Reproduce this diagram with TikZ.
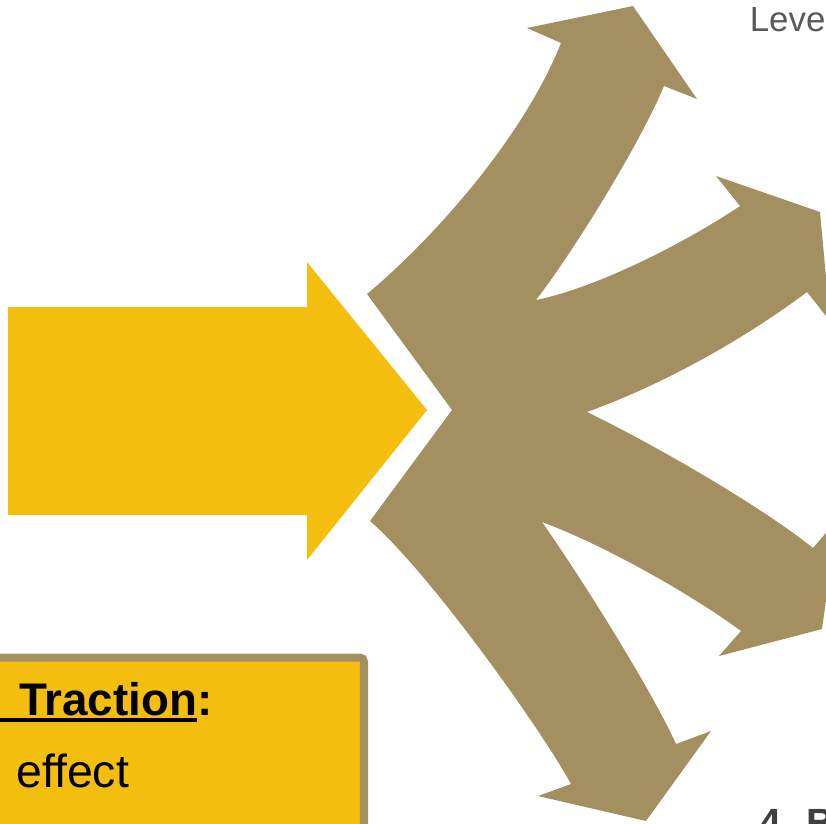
\documentclass[tikz,border=0pt]{standalone}
\usepackage{fontspec}
\setmainfont{Liberation Sans}
\definecolor{gold}{HTML}{F4BE0E}
\definecolor{khaki}{HTML}{A38F60}
\definecolor{levelgray}{HTML}{595959}
\definecolor{stepgray}{HTML}{404040}

\begin{document}
\begin{tikzpicture}[x=0.025cm, y=-0.025cm,
    txt/.style={inner sep=0, anchor=base west},
    boxline/.style={draw=khaki, line width=5.7pt, fill=gold, rounded corners=3pt},
    uline/.style={line width=3.2pt, black}
]
\useasboundingbox (0,0) rectangle (826,823);
\clip (0,0) rectangle (826,823);

\fill[gold] (8,307) -- (307,307) -- (307,262) -- (427,410) -- (307,560) -- (307,515) -- (8,515) -- cycle;

\fill[khaki] (452,410) -- (367,294)
  .. controls (427,244) and (521,143) .. (561,43)
  -- (527,28) -- (633,6) -- (697,99) -- (664,86)
  .. controls (639,146) and (571,255) .. (536,300)
  .. controls (596,288) and (685,243) .. (740,206)
  -- (716,176) -- (820,212) -- (830,321) -- (807,292)
  .. controls (747,337) and (667,383) .. (587,412)
  .. controls (657,446) and (762,507) .. (813,548)
  -- (837,520) -- (822,629) -- (719,656) -- (741,631)
  .. controls (691,594) and (602,544) .. (542,522)
  .. controls (582,579) and (651,689) .. (676,744)
  -- (711,731) -- (646,821) -- (538,796) -- (571,784)
  .. controls (543,732) and (430,573) .. (370,521)
  -- cycle;

\draw[boxline] (-30,657.5) rectangle (364,860);

\node[txt, font=\fontsize{32.5}{36}\selectfont\bfseries] (trac) at (19,715) {Traction};
\node[txt, font=\fontsize{32.5}{36}\selectfont\bfseries] (colon) at (trac.base east) {:};
\coordinate (ul) at (0,720);
\draw[uline] (ul) -- (ul -| trac.east);
\node[txt, font=\fontsize{33}{38}\selectfont] (effect) at (16,787) {effect};

\node[txt, font=\fontsize{24.8}{28}\selectfont, text=levelgray] (level) at (749.5,31) {Leve};
\node[txt, font=\fontsize{28}{32}\selectfont\bfseries, text=stepgray] (step4) at (759,836) {4. B};
\end{tikzpicture}
\end{document}
